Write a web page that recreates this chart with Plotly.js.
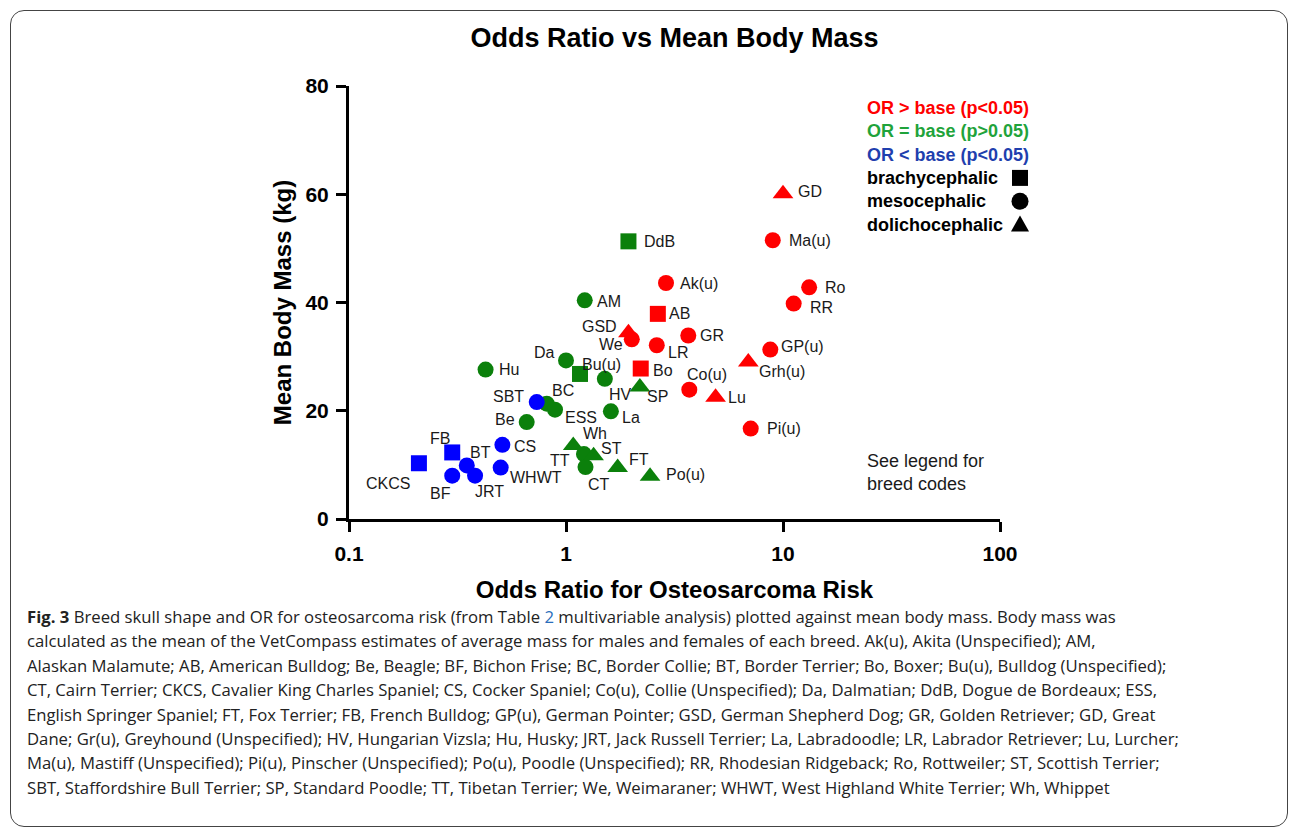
<!DOCTYPE html>
<html>
<head>
<meta charset="utf-8">
<script src="https://cdn.plot.ly/plotly-3.0.1.min.js"></script>
<style>
  html, body { margin: 0; padding: 0; background: #ffffff; }
  #wrap { position: relative; width: 1290px; height: 829px; overflow: hidden; background: #fff; }
  #chart { position: absolute; left: 0; top: 0; width: 1290px; height: 829px; }
  #frame { position: absolute; left: 10px; top: 10px; width: 1276px; height: 815px;
           border: 1px solid #444; border-radius: 14px; pointer-events: none; }
  #caption { position: absolute; left: 27px; top: 605px; width: 1250px;
             font-family: "Open Sans", "Noto Sans", sans-serif; font-size: 16.7px;
             line-height: 24.4px; color: #222; white-space: nowrap; }
  #caption b { font-weight: 700; }
  #caption .lnk { color: #2a6ebb; }
</style>
</head>
<body>
<div id="wrap">
  <div id="chart"></div>
  <div id="frame"></div>
  <div id="caption">
<b>Fig. 3</b> Breed skull shape and OR for osteosarcoma risk (from Table <span class="lnk">2</span> multivariable analysis) plotted against mean body mass. Body mass was<br>
calculated as the mean of the VetCompass estimates of average mass for males and females of each breed. Ak(u), Akita (Unspecified); AM,<br>
Alaskan Malamute; AB, American Bulldog; Be, Beagle; BF, Bichon Frise; BC, Border Collie; BT, Border Terrier; Bo, Boxer; Bu(u), Bulldog (Unspecified);<br>
CT, Cairn Terrier; CKCS, Cavalier King Charles Spaniel; CS, Cocker Spaniel; Co(u), Collie (Unspecified); Da, Dalmatian; DdB, Dogue de Bordeaux; ESS,<br>
English Springer Spaniel; FT, Fox Terrier; FB, French Bulldog; GP(u), German Pointer; GSD, German Shepherd Dog; GR, Golden Retriever; GD, Great<br>
Dane; Gr(u), Greyhound (Unspecified); HV, Hungarian Vizsla; Hu, Husky; JRT, Jack Russell Terrier; La, Labradoodle; LR, Labrador Retriever; Lu, Lurcher;<br>
Ma(u), Mastiff (Unspecified); Pi(u), Pinscher (Unspecified); Po(u), Poodle (Unspecified); RR, Rhodesian Ridgeback; Ro, Rottweiler; ST, Scottish Terrier;<br>
SBT, Staffordshire Bull Terrier; SP, Standard Poodle; TT, Tibetan Terrier; We, Weimaraner; WHWT, West Highland White Terrier; Wh, Whippet
  </div>
</div>
<script>
// ---------------- DATA ----------------
const breedCodes = ["GD","Ma(u)","Ro","RR","GP(u)","Grh(u)","Pi(u)","Lu","Co(u)","GR","Ak(u)","AB","LR","We","GSD","Bo",
  "DdB","AM","Da","Bu(u)","HV","SP","Hu","BC","ESS","Be","La","Wh","TT","ST","CT","FT","Po(u)",
  "SBT","CS","WHWT","FB","CKCS","BT","BF","JRT"];
const oddsRatio = [10.0, 8.97, 13.2, 11.2, 8.74, 6.92, 7.10, 4.89, 3.70, 3.66, 2.89, 2.65, 2.62, 2.01, 1.94, 2.21,
  1.94, 1.22, 1.00, 1.16, 1.51, 2.19, 0.426, 0.815, 0.89, 0.659, 1.61, 1.08, 1.21, 1.34, 1.23, 1.73, 2.44,
  0.733, 0.509, 0.500, 0.299, 0.210, 0.349, 0.299, 0.381];
const meanMassKg = [60.1, 51.5, 42.8, 39.8, 31.3, 29.0, 16.7, 22.5, 23.9, 33.9, 43.6, 37.9, 32.1, 33.2, 34.4, 27.8,
  51.3, 40.4, 29.3, 26.8, 25.9, 24.4, 27.6, 21.3, 20.2, 17.9, 19.9, 13.6, 12.0, 11.7, 9.6, 9.5, 7.9,
  21.6, 13.7, 9.5, 12.3, 10.3, 9.9, 8.0, 8.0];
const riskGroup = ["higher","higher","higher","higher","higher","higher","higher","higher","higher","higher","higher","higher","higher","higher","higher","higher",
  "similar","similar","similar","similar","similar","similar","similar","similar","similar","similar","similar","similar","similar","similar","similar","similar","similar",
  "lower","lower","lower","lower","lower","lower","lower","lower"];
const skullShape = ["dolicho","meso","meso","meso","meso","dolicho","meso","dolicho","meso","meso","meso","brachy","meso","meso","dolicho","brachy",
  "brachy","meso","meso","brachy","meso","dolicho","meso","meso","meso","meso","meso","dolicho","meso","dolicho","meso","dolicho","dolicho",
  "meso","meso","meso","brachy","brachy","meso","meso","meso"];
const xTickVals = [0.1, 1, 10, 100];
const xTickText = ["0.1", "1", "10", "100"];
const yTickVals = [0, 20, 40, 60, 80];
const legendRiskLabels = ["OR > base (p<0.05)", "OR = base (p>0.05)", "OR < base (p<0.05)"];
const legendShapeLabels = ["brachycephalic", "mesocephalic", "dolichocephalic"];

// ---------------- STYLE ----------------
const riskColor = { higher: "#ff0000", similar: "#0b800b", lower: "#0000ff" };
const legendTextColor = ["#ff0000", "#1fa33b", "#1f3fae"];
const shapeSymbol = { brachy: "square", meso: "circle", dolicho: "triangle-up" };
const shapeSize = { brachy: 16, meso: 16, dolicho: 18 };
// label placement: [dx (px right), dy (px down), anchor]
const labelPlace = {
  "GD":[14,-2,"left"], "Ma(u)":[15,0,"left"], "Ro":[15,0,"left"], "RR":[15,4,"left"],
  "GP(u)":[10,-3,"left"], "Grh(u)":[10,9,"left"], "Pi(u)":[15,0,"left"], "Lu":[11,0,"left"],
  "Co(u)":[-3,-15,"left"], "GR":[11,0,"left"], "Ak(u)":[13,0,"left"], "AB":[10,0,"left"],
  "LR":[10,7,"left"], "We":[-8,5,"right"], "GSD":[-10,-6,"right"], "Bo":[11,2,"left"],
  "DdB":[15,0,"left"], "AM":[11,1,"left"], "Da":[-10,-8,"right"], "Bu(u)":[1,-9.5,"left"],
  "HV":[3,16,"left"], "SP":[6,10,"left"], "Hu":[12,0,"left"], "SBT":[-12,-6,"right"],
  "BC":[4,-13,"left"], "ESS":[9,8,"left"], "Be":[-11,-3,"right"], "La":[10,6,"left"],
  "Wh":[9,-12,"left"], "TT":[-13,6,"right"], "ST":[6,-7,"left"], "CT":[1,17,"left"],
  "FT":[10,-8,"left"], "Po(u)":[15,-2,"left"], "CS":[11,2,"left"], "WHWT":[8,10,"left"],
  "FB":[-1,-14,"right"], "CKCS":[-8,20,"right"], "BT":[2,-13,"left"], "BF":[0,18,"right"],
  "JRT":[-1,16,"left"]
};

// ---------------- TRACES ----------------
const traces = [];
["higher","similar","lower"].forEach(function (rg) {
  ["brachy","meso","dolicho"].forEach(function (sh) {
    const idx = breedCodes.map(function (_, i) { return i; })
      .filter(function (i) { return riskGroup[i] === rg && skullShape[i] === sh; });
    if (!idx.length) return;
    traces.push({
      type: "scatter", mode: "markers",
      x: idx.map(function (i) { return oddsRatio[i]; }),
      y: idx.map(function (i) { return meanMassKg[i]; }),
      text: idx.map(function (i) { return breedCodes[i]; }),
      hovertemplate: "%{text}<br>OR %{x}<br>%{y} kg<extra></extra>",
      marker: { symbol: shapeSymbol[sh], size: shapeSize[sh], color: riskColor[rg], line: { width: 0 } },
      showlegend: false
    });
  });
});

// ---------------- ANNOTATIONS ----------------
const FONT = "Liberation Sans, Arial, sans-serif";
const PL = 349, PW = 651, PT = 86, PH = 433;   // plot area in page pixels
function px2x(px) { return (px - PL) / PW; }
function py2y(py) { return 1 - (py - PT) / PH; }

const annotations = breedCodes.map(function (code, i) {
  const p = labelPlace[code];
  return {
    x: Math.log10(oddsRatio[i]), y: meanMassKg[i], xref: "x", yref: "y",
    text: code, showarrow: false, xanchor: p[2], yanchor: "middle",
    xshift: p[0], yshift: -p[1], borderpad: 0,
    font: { family: FONT, size: 16, color: "#1a1a1a" }
  };
});
const legTop = 108, legStep = 23.3;
legendRiskLabels.forEach(function (t, k) {
  annotations.push({
    xref: "paper", yref: "paper", x: px2x(866), y: py2y(legTop + k * legStep),
    text: t, showarrow: false, xanchor: "left", yanchor: "middle", borderpad: 0,
    font: { family: FONT, size: 18, weight: "bold", color: legendTextColor[k] }
  });
});
const shapes = [];
legendShapeLabels.forEach(function (t, k) {
  const yy = py2y(legTop + (k + 3) * legStep);
  annotations.push({
    xref: "paper", yref: "paper", x: px2x(866), y: yy,
    text: t, showarrow: false, xanchor: "left", yanchor: "middle", borderpad: 0,
    font: { family: FONT, size: 18, weight: "bold", color: "#000" }
  });
  const base = { xref: "paper", yref: "paper", xsizemode: "pixel", ysizemode: "pixel",
                 xanchor: px2x(1020), yanchor: yy, fillcolor: "#000", line: { width: 0 } };
  if (k === 0) shapes.push(Object.assign({ type: "rect", x0: -8, x1: 8, y0: -8, y1: 8 }, base));
  if (k === 1) shapes.push(Object.assign({ type: "circle", x0: -8.5, x1: 8.5, y0: -8.5, y1: 8.5 }, base));
  if (k === 2) shapes.push(Object.assign({ type: "path", path: "M-9,-7 L9,-7 L0,9 Z" }, base));
});
annotations.push({
  xref: "paper", yref: "paper", x: px2x(866), y: py2y(472),
  text: "See legend for<br>breed codes", showarrow: false, xanchor: "left", yanchor: "middle",
  align: "left", borderpad: 0,
  font: { family: FONT, size: 18, color: "#1a1a1a" }
});

// ---------------- LAYOUT ----------------
const axisFont = { family: FONT, size: 21, weight: "bold", color: "#000" };
const layout = {
  width: 1290, height: 829,
  margin: { l: PL, r: 1290 - PL - PW, t: PT, b: 829 - PT - PH, pad: 0 },
  paper_bgcolor: "rgba(0,0,0,0)", plot_bgcolor: "rgba(0,0,0,0)",
  title: { text: "Odds Ratio vs Mean Body Mass", x: 674.5 / 1290, xanchor: "center",
           y: 1 - 38 / 829, yanchor: "middle",
           font: { family: FONT, size: 27, weight: "bold", color: "#000" } },
  xaxis: {
    type: "log", range: [-1, 2], tickvals: xTickVals, ticktext: xTickText,
    showgrid: false, zeroline: false, showline: true, linewidth: 3, linecolor: "#000",
    ticks: "outside", ticklen: 10, tickwidth: 3, tickcolor: "#000",
    tickfont: axisFont, ticklabelstandoff: 4,
    title: { text: "Odds Ratio for Osteosarcoma Risk", standoff: 17,
             font: { family: FONT, size: 24, weight: "bold", color: "#000" } },
    fixedrange: true
  },
  yaxis: {
    range: [0, 80], tickvals: yTickVals,
    showgrid: false, zeroline: false, showline: true, linewidth: 3, linecolor: "#000",
    ticks: "outside", ticklen: 10, tickwidth: 3, tickcolor: "#000",
    tickfont: axisFont, ticklabelstandoff: 3,
    title: { text: "Mean Body Mass (kg)", standoff: 8,
             font: { family: FONT, size: 24, weight: "bold", color: "#000" } },
    fixedrange: true
  },
  annotations: annotations,
  shapes: shapes,
  showlegend: false
};

Plotly.newPlot("chart", traces, layout, { displayModeBar: false });
</script>
</body>
</html>
